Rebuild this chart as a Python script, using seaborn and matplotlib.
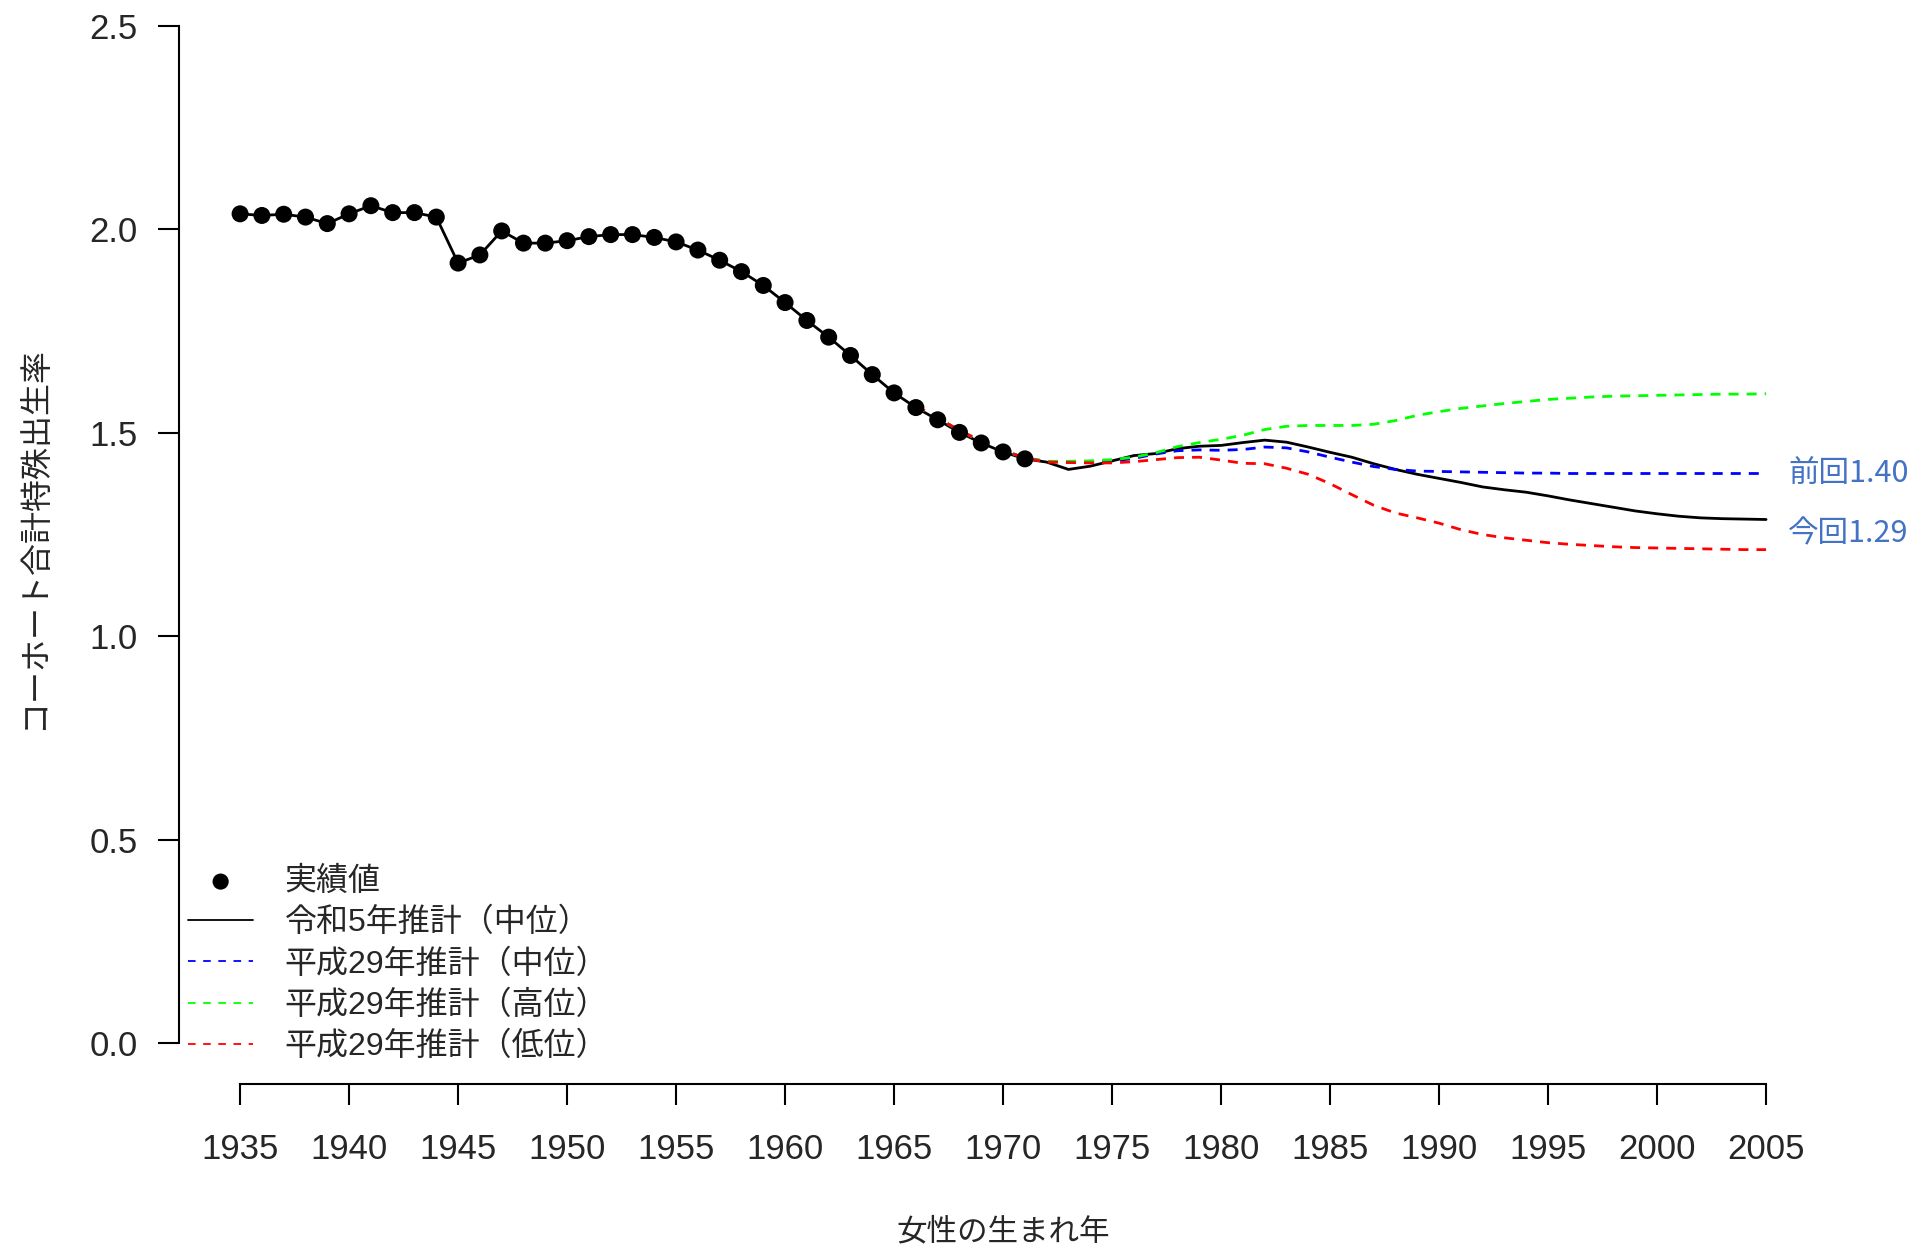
import numpy as np
import pandas as pd
import matplotlib
matplotlib.use("Agg")
import matplotlib.pyplot as plt
import seaborn as sns

# ---------------- data ----------------
obs_years = list(range(1935, 1972))
obs_values = [2.038, 2.034, 2.037, 2.030, 2.014, 2.038, 2.058, 2.041, 2.041, 2.030,
              1.917, 1.937, 1.996, 1.966, 1.966, 1.972, 1.982, 1.987, 1.987, 1.980,
              1.969, 1.949, 1.924, 1.896, 1.862, 1.820, 1.776, 1.735, 1.690, 1.643,
              1.598, 1.562, 1.532, 1.501, 1.475, 1.453, 1.436]

proj_years = list(range(1972, 2006))
r5_mid = [1.428, 1.410, 1.418, 1.431, 1.444, 1.449, 1.461, 1.467, 1.469, 1.476,
          1.482, 1.477, 1.465, 1.452, 1.440, 1.424, 1.410, 1.398, 1.388, 1.378,
          1.367, 1.360, 1.354, 1.345, 1.335, 1.326, 1.317, 1.308, 1.301, 1.295,
          1.291, 1.289, 1.288, 1.287]

h29_years = list(range(1966, 2006))
h29_base = [1.566, 1.536, 1.506, 1.479, 1.457, 1.438]
h29_mid = h29_base + [1.430, 1.428, 1.428, 1.430, 1.437, 1.448, 1.456, 1.458, 1.457, 1.459,
                      1.465, 1.463, 1.453, 1.440, 1.428, 1.417, 1.410, 1.406, 1.405, 1.404,
                      1.403, 1.402, 1.401, 1.401, 1.400, 1.400, 1.400, 1.400, 1.400, 1.400,
                      1.400, 1.400, 1.400, 1.400]
h29_high = h29_base + [1.430, 1.430, 1.431, 1.434, 1.440, 1.451, 1.466, 1.476, 1.484, 1.494,
                       1.508, 1.516, 1.518, 1.518, 1.518, 1.521, 1.530, 1.543, 1.552, 1.560,
                       1.566, 1.572, 1.577, 1.582, 1.585, 1.588, 1.590, 1.591, 1.592, 1.593,
                       1.594, 1.595, 1.595, 1.596]
h29_low = h29_base + [1.428, 1.427, 1.426, 1.426, 1.429, 1.434, 1.439, 1.440, 1.433, 1.425,
                      1.424, 1.413, 1.398, 1.375, 1.348, 1.322, 1.303, 1.291, 1.278, 1.262,
                      1.250, 1.242, 1.236, 1.230, 1.226, 1.223, 1.220, 1.218, 1.217, 1.216,
                      1.215, 1.214, 1.213, 1.213]

labels = ["実績値", "令和5年推計（中位）", "平成29年推計（中位）", "平成29年推計（高位）", "平成29年推計（低位）"]
xticks = list(range(1935, 2006, 5))
yticks = [0.0, 0.5, 1.0, 1.5, 2.0, 2.5]
prev_label = "前回1.40"
curr_label = "今回1.29"

# ---------------- style ----------------
sns.set_style("ticks")
plt.rcParams['font.family'] = ['Liberation Sans', 'Noto Sans CJK JP', 'DejaVu Sans']

fig = plt.figure(figsize=(19.13, 12.48), dpi=100)
ax = fig.add_axes([0.0936, 0.1314, 0.8615, 0.8675])

r5_df = pd.DataFrame({"year": obs_years + proj_years, "value": obs_values + r5_mid})
obs_df = pd.DataFrame({"year": obs_years, "value": obs_values})
h29_df = pd.DataFrame({"year": h29_years, "mid": h29_mid, "high": h29_high, "low": h29_low})

LW = 2.0
DASH = (0, (3.6, 2.9))
sns.lineplot(data=r5_df, x="year", y="value", color="black", lw=LW, ax=ax, label=labels[1], zorder=2)
sns.lineplot(data=h29_df, x="year", y="mid", color="#0000FF", lw=LW, linestyle=DASH, ax=ax, label=labels[2], zorder=3)
sns.lineplot(data=h29_df, x="year", y="high", color="#00FF00", lw=LW, linestyle=DASH, ax=ax, label=labels[3], zorder=3)
sns.lineplot(data=h29_df, x="year", y="low", color="#FF0000", lw=LW, linestyle=DASH, ax=ax, label=labels[4], zorder=3)
sns.scatterplot(data=obs_df, x="year", y="value", color="black", s=150, edgecolor="none",
                ax=ax, label=labels[0], zorder=4)

ax.set_xlim(1932.2, 2007.8)
ax.set_ylim(-0.1, 2.56)
ax.set_xticks(xticks)
ax.set_yticks(yticks)
ax.set_yticklabels([f"{v:.1f}" for v in yticks])
ax.tick_params(axis='both', labelsize=25, length=15, width=1.5, color='black')
ax.tick_params(axis='x', pad=20)
ax.tick_params(axis='y', pad=15)
for s in ["top", "right"]:
    ax.spines[s].set_visible(False)
ax.spines["left"].set_bounds(0, 2.5)
ax.spines["bottom"].set_bounds(1935, 2005)
for s in ["left", "bottom"]:
    ax.spines[s].set_linewidth(1.5)
    ax.spines[s].set_color("black")

ax.set_xlabel("女性の生まれ年", fontsize=22, family=['Noto Sans CJK JP'])
ax.set_ylabel("コーホート合計特殊出生率", fontsize=23, family=['Noto Sans CJK JP'])
ax.xaxis.set_label_coords(0.5, -0.1367)
ax.xaxis.label.set_va('center')
ax.yaxis.set_label_coords(-0.0883, 0.505)
ax.yaxis.label.set_va('center')
ax.yaxis.label.set_ha('center')

# legend
handles, labs = ax.get_legend_handles_labels()
order = [labs.index(l) for l in labels]
leg = ax.legend([handles[i] for i in order], [labs[i] for i in order],
                loc='lower left', bbox_to_anchor=(0.0983, 0.149), bbox_transform=fig.transFigure,
                frameon=False, fontsize=23, handlelength=2.04, handletextpad=0.98,
                labelspacing=0.34, borderpad=0, borderaxespad=0, markerscale=0.95)
for ln in leg.get_lines():
    ln.set_linewidth(1.3)
    if ln.get_color() != 'black':
        ln.set_linestyle((0, (4.2, 4.2)))

ax.annotate(prev_label, xy=(2005, 1.40), xytext=(16, -0.5), textcoords='offset points',
            ha='left', va='center', fontsize=22, color='#4472C4', family=['Noto Sans CJK JP'],
            annotation_clip=False)
ax.annotate(curr_label, xy=(2005, 1.29), xytext=(16, -11), textcoords='offset points',
            ha='left', va='center', fontsize=22, color='#4472C4', family=['Noto Sans CJK JP'],
            annotation_clip=False)

fig.savefig("out.png", dpi=100)
